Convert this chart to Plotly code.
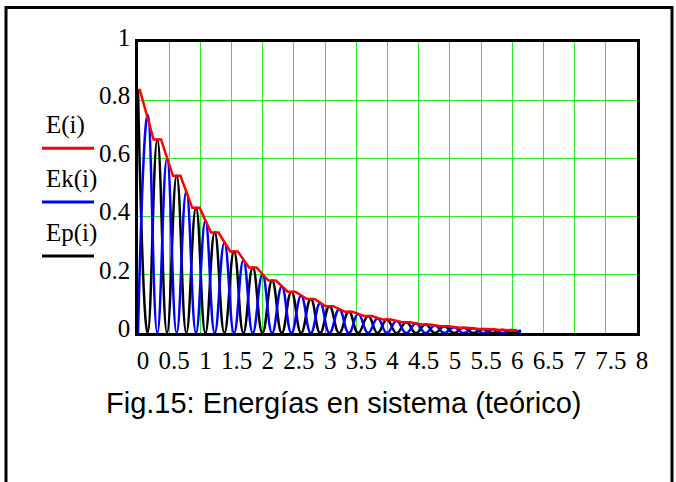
import plotly.graph_objects as go

# ---- data ----
# times (s) of the potential-energy (black) peaks and their heights
t_ep_peak = [0.0, 0.31, 0.62, 0.93, 1.23, 1.54, 1.84, 2.15, 2.46, 2.77, 3.07,
             3.38, 3.69, 3.99, 4.30, 4.61, 4.91, 5.22, 5.53, 5.84, 6.14]
ep_peak = [0.835, 0.665, 0.54, 0.43, 0.345, 0.28, 0.225, 0.18, 0.142, 0.117, 0.092,
           0.073, 0.058, 0.046, 0.037, 0.029, 0.023, 0.018, 0.014, 0.011, 0.009]
# times of the kinetic-energy (blue) peaks and their heights
t_ek_peak = [0.155, 0.465, 0.775, 1.08, 1.385, 1.69, 1.995, 2.305, 2.615, 2.92,
             3.225, 3.53, 3.84, 4.145, 4.455, 4.76, 5.065, 5.375, 5.685, 5.99]
ek_peak = [0.75, 0.60, 0.487, 0.385, 0.31, 0.25, 0.20, 0.16, 0.128, 0.103,
           0.082, 0.065, 0.051, 0.041, 0.033, 0.026, 0.020, 0.016, 0.0125, 0.010]
# half-width of the flat steps of the total energy around each Ep peak
e_step_halfwidth = 0.06

x_ticks = [0, 0.5, 1, 1.5, 2, 2.5, 3, 3.5, 4, 4.5, 5, 5.5, 6, 6.5, 7, 7.5, 8]
y_ticks = [0, 0.2, 0.4, 0.6, 0.8, 1]
legend_names = ["E(i)", "Ek(i)", "Ep(i)"]
caption = "Fig.15: Energías en sistema (teórico)"


def merge(peak_t, peak_v, zero_t):
    pts = sorted([(a, b) for a, b in zip(peak_t, peak_v)] + [(a, 0.0) for a in zero_t])
    return [p[0] for p in pts], [p[1] for p in pts]


ep_t, ep_v = merge(t_ep_peak, ep_peak, t_ek_peak)
ek_t, ek_v = merge(t_ek_peak, ek_peak, t_ep_peak)

e_t, e_v = [], []
for i, (tk, pk) in enumerate(zip(t_ep_peak, ep_peak)):
    lo = max(0.0, tk - e_step_halfwidth)
    if i == 0:
        e_t += [0.0, e_step_halfwidth / 2]
        e_v += [pk, pk]
    elif i == len(t_ep_peak) - 1:
        e_t += [lo]
        e_v += [pk]
    else:
        e_t += [lo, tk + e_step_halfwidth]
        e_v += [pk, pk]

serif = "Liberation Serif, Times New Roman, serif"

fig = go.Figure()
fig.add_trace(go.Scatter(x=ep_t, y=ep_v, mode="lines",
                         line=dict(color="black", width=2.5, shape="spline", smoothing=1.3),
                         name="Ep(i)", showlegend=False))
fig.add_trace(go.Scatter(x=ek_t, y=ek_v, mode="lines",
                         line=dict(color="#0000ff", width=2.5, shape="spline", smoothing=1.3),
                         name="Ek(i)", showlegend=False))
fig.add_trace(go.Scatter(x=e_t, y=e_v, mode="lines", line=dict(color="#ff0000", width=2.5),
                         name="E(i)", showlegend=False))

grid = "#2ee82e"
fig.update_xaxes(range=[0, 8], tickvals=x_ticks, ticktext=[f"{v:g}" for v in x_ticks],
                 showgrid=True, gridcolor=grid, gridwidth=1, zeroline=False,
                 showline=True, linecolor="black", linewidth=2.5, mirror=True,
                 ticks="", ticklabelshift=5, ticklabelstandoff=3,
                 tickfont=dict(family=serif, size=25, color="black"))
fig.update_yaxes(range=[0, 1], tickvals=y_ticks, ticktext=[f"{v:g}" for v in y_ticks],
                 showgrid=True, gridcolor=grid, gridwidth=1, zeroline=False,
                 showline=True, linecolor="black", linewidth=2.5, mirror=True,
                 ticks="", ticklabelshift=-5, ticklabelstandoff=0,
                 tickfont=dict(family=serif, size=25, color="black"))

L, R, T, B = 138, 39, 41.5, 148.7
W, H = 676, 482
pw, ph = W - L - R, H - T - B


def px_x(px):
    return (px - L) / pw


def px_y(py):
    return (H - B - py) / ph


shapes = [dict(type="rect", xref="paper", yref="paper",
               x0=px_x(6), x1=px_x(672), y0=px_y(7), y1=px_y(495),
               line=dict(color="black", width=3), layer="below")]
annotations = []
legend_colors = ["#ff0000", "#0000ff", "black"]
text_y = [125, 179, 233]
line_y = [148, 202, 256]
for name, col, ty, ly in zip(legend_names, legend_colors, text_y, line_y):
    annotations.append(dict(text=name, xref="paper", yref="paper", x=px_x(44), y=px_y(ty),
                            xanchor="left", yanchor="middle", showarrow=False,
                            font=dict(family=serif, size=25, color="black")))
    shapes.append(dict(type="line", xref="paper", yref="paper",
                       x0=px_x(42), x1=px_x(94), y0=px_y(ly), y1=px_y(ly),
                       line=dict(color=col, width=3)))
annotations.append(dict(text=caption, xref="paper", yref="paper", x=px_x(343), y=px_y(403),
                        xanchor="center", yanchor="middle", showarrow=False,
                        font=dict(family="Liberation Sans, Arial, sans-serif", size=29, color="black")))

fig.update_layout(width=W, height=H, margin=dict(l=L, r=R, t=T, b=B),
                  paper_bgcolor="white", plot_bgcolor="white",
                  shapes=shapes, annotations=annotations)

fig.write_html("out.html")
